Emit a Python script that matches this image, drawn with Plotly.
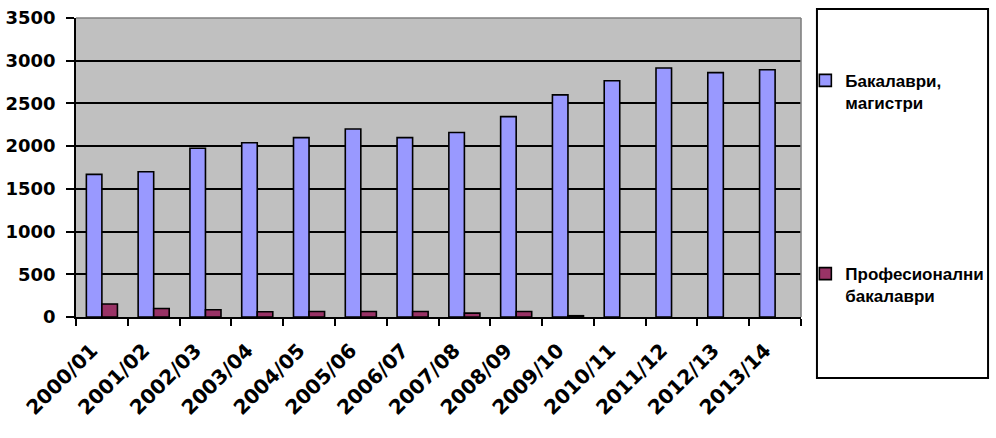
import plotly.graph_objects as go

years = ["2000/01", "2001/02", "2002/03", "2003/04", "2004/05", "2005/06", "2006/07",
         "2007/08", "2008/09", "2009/10", "2010/11", "2011/12", "2012/13", "2013/14"]
bachelors_masters = [1670, 1700, 1975, 2040, 2100, 2200, 2100, 2160, 2345, 2600, 2765, 2915, 2860, 2895]
professional_bachelors = [152, 100, 85, 62, 65, 65, 65, 45, 65, 15, None, None, None, None]

name1 = "Бакалаври,<br>магистри"
name2 = "Професионални<br>бакалаври"

FONT = "DejaVu Sans"

fig = go.Figure()
fig.add_trace(go.Bar(x=years, y=bachelors_masters, name=name1, legendgroup="a",
                     marker=dict(color="#9999FF", line=dict(color="black", width=1.6))))
fig.add_trace(go.Bar(x=years, y=professional_bachelors, name=name2, legendgroup="b",
                     marker=dict(color="#993366", line=dict(color="black", width=1.6))))

fig.update_layout(
    width=996, height=438,
    margin=dict(l=76, r=195, t=18, b=121, autoexpand=False),
    paper_bgcolor="white",
    plot_bgcolor="#C0C0C0",
    barmode="group",
    bargap=0.4,
    bargroupgap=0,
    showlegend=True,
    legend=dict(x=1.006, y=0.85, xanchor="left", yanchor="top",
                bgcolor="rgba(0,0,0,0)", borderwidth=0,
                font=dict(family="Liberation Sans", size=17, color="black", weight="bold"),
                traceorder="grouped", tracegroupgap=146, valign="top"),
    xaxis=dict(type="category", showgrid=False, showline=True, linecolor="black", linewidth=1.6,
               ticks="outside", tickson="boundaries", ticklen=7, tickcolor="black", tickwidth=1.5,
               tickangle=-45, automargin=False, ticklabelstandoff=12, ticklabelshift=-10,
               tickfont=dict(family=FONT, size=20, color="black", weight="bold")),
    yaxis=dict(range=[0, 3500], dtick=500, tick0=0, showgrid=True, gridcolor="black", gridwidth=1.6,
               showline=True, linecolor="black", linewidth=1.6, zeroline=False, automargin=False,
               ticks="outside", ticklen=8, tickcolor="black", tickwidth=1.5, ticklabelstandoff=7,
               tickfont=dict(family=FONT, size=18, color="black", weight="bold")),
    shapes=[
        dict(type="line", xref="paper", yref="paper", x0=0, x1=1, y0=1, y1=1,
             line=dict(color="#808080", width=1.6), layer="above"),
        dict(type="line", xref="paper", yref="paper", x0=1, x1=1, y0=0, y1=1,
             line=dict(color="#808080", width=1.6), layer="above"),
        dict(type="rect", xref="paper", yref="paper", x0=1.022, x1=1.258, y0=-0.204, y1=1.030,
             line=dict(color="black", width=2), fillcolor="rgba(0,0,0,0)", layer="above"),
    ],
)

fig.write_html("out.html", config={"displayModeBar": False},
               post_script="document.body.style.margin='0';document.body.style.overflow='hidden';")
